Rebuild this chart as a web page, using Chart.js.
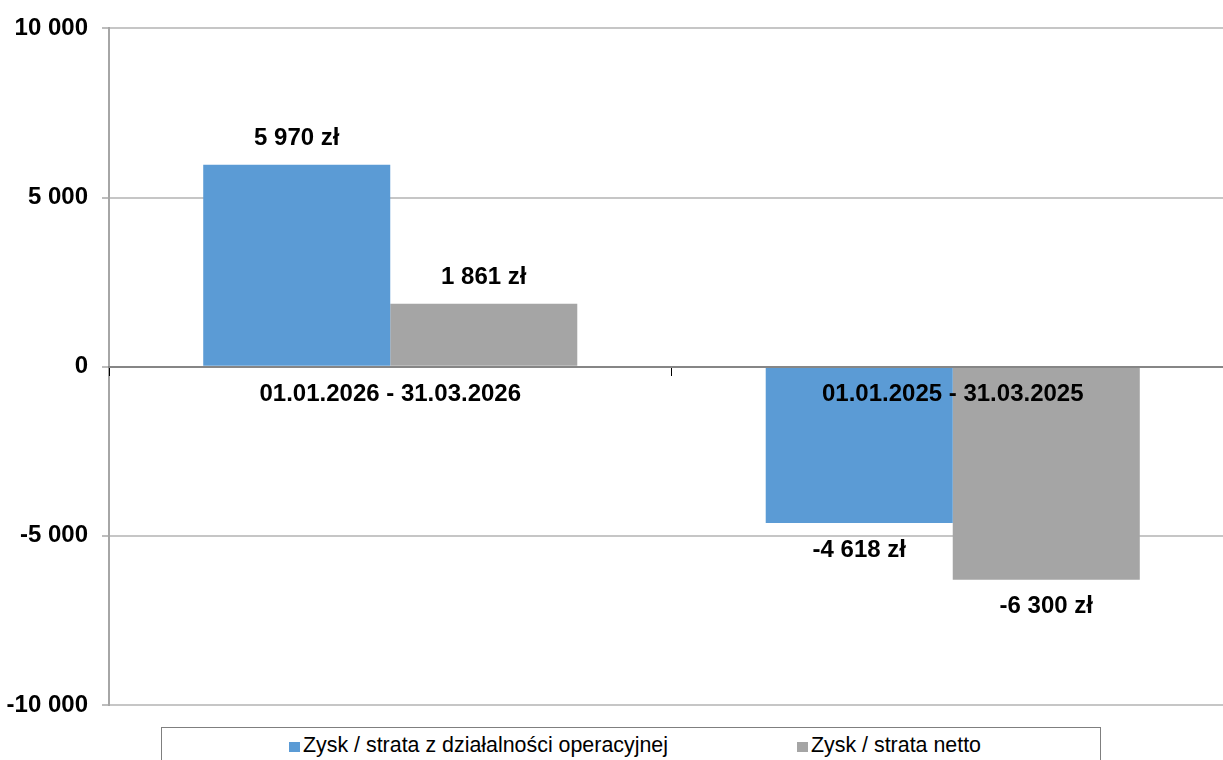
<!DOCTYPE html>
<html>
<head>
<meta charset="utf-8">
<script src="https://cdn.jsdelivr.net/npm/chart.js@4.4.1/dist/chart.umd.min.js"></script>
<style>
  html, body { margin: 0; padding: 0; background: #fff; overflow: hidden; }
  #wrap { position: relative; width: 1223px; height: 760px; overflow: hidden; }
  #c { position: absolute; left: 0; top: 0; }
  #legend { position: absolute; left: 161px; top: 727px; width: 940px; height: 45px;
            border: 1px solid #7f7f7f; box-sizing: border-box; background: #fff; }
  .lg-item { position: absolute; top: 7px; white-space: nowrap;
             font-family: "Liberation Sans", Arial, sans-serif; font-size: 21.4px; line-height: 21px; color: #000; }
  .lg-box { display: inline-block; width: 11px; height: 10px; margin-right: 3px; vertical-align: baseline; }
</style>
</head>
<body>
<div id="wrap">
  <canvas id="c" width="1234" height="760"></canvas>
  <div id="legend"></div>
</div>
<script>
const categories = ['01.01.2026 - 31.03.2026', '01.01.2025 - 31.03.2025'];
const seriesNames = ['Zysk / strata z działalności operacyjnej', 'Zysk / strata netto'];
const operatingProfit = [5970, -4618];
const netProfit = [1861, -6300];
const yMin = -10000;
const yMax = 10000;
const yStep = 5000;
const seriesColors = ['#5b9bd5', '#a5a5a5'];
const FONT = '"Liberation Sans", Arial, sans-serif';

function fmt(v) {
  const s = String(Math.abs(v)).replace(/\B(?=(\d{3})+(?!\d))/g, ' ');
  return (v < 0 ? '-' : '') + s;
}

const dataLabels = {
  id: 'dataLabels',
  afterDatasetsDraw(chart) {
    const ctx = chart.ctx;
    ctx.save();
    ctx.font = 'bold 24px ' + FONT;
    ctx.fillStyle = '#000';
    ctx.textAlign = 'center';
    ctx.textBaseline = 'middle';
    chart.data.datasets.forEach((ds, di) => {
      const meta = chart.getDatasetMeta(di);
      meta.data.forEach((bar, i) => {
        const v = ds.data[i];
        const y = v >= 0 ? bar.y - 26 : bar.y + 27;
        ctx.fillText(fmt(v) + ' zł', bar.x, y);
      });
    });
    ctx.restore();
  }
};

new Chart(document.getElementById('c'), {
  type: 'bar',
  data: {
    labels: categories,
    datasets: [
      { label: seriesNames[0], data: operatingProfit, backgroundColor: seriesColors[0], borderWidth: 0 },
      { label: seriesNames[1], data: netProfit, backgroundColor: seriesColors[1], borderWidth: 0 }
    ]
  },
  options: {
    responsive: false,
    animation: false,
    events: [],
    layout: { padding: { top: 23, bottom: 55, left: 0, right: 0 } },
    datasets: { bar: { categoryPercentage: 0.665, barPercentage: 1 } },
    plugins: { legend: { display: false }, tooltip: { enabled: false } },
    scales: {
      x: {
        position: { y: 0 },
        offset: true,
        grid: { drawOnChartArea: false, drawTicks: true, tickLength: 8, color: '#000', lineWidth: 1, offset: true, z: 1 },
        border: { display: true, color: '#868686', width: 2, z: 1 },
        ticks: { z: 2, color: '#000', font: { family: FONT, size: 24, weight: 'bold' }, padding: 5, maxRotation: 0, autoSkip: false }
      },
      y: {
        min: yMin, max: yMax,
        afterFit(scale) { scale.width = 109; },
        grid: { color: '#c6c6c6', lineWidth: 2, tickLength: 7, tickColor: '#bdbdbd' },
        border: { display: true, color: '#a6a6a6', width: 2 },
        ticks: { stepSize: yStep, color: '#000', padding: 14, font: { family: FONT, size: 24, weight: 'bold' },
                 callback: (v) => fmt(v) }
      }
    }
  },
  plugins: [dataLabels]
});

const legend = document.getElementById('legend');
const itemLefts = [127, 635];
seriesNames.forEach((name, i) => {
  const it = document.createElement('div');
  it.className = 'lg-item';
  it.style.left = itemLefts[i] + 'px';
  const box = document.createElement('span');
  box.className = 'lg-box';
  box.style.background = seriesColors[i];
  it.appendChild(box);
  it.appendChild(document.createTextNode(name));
  legend.appendChild(it);
});
</script>
</body>
</html>
